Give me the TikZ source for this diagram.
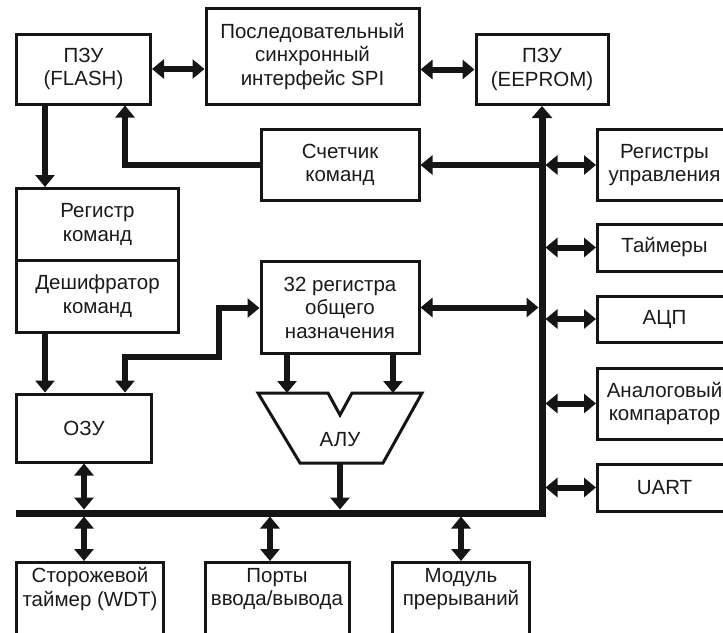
\documentclass[tikz,border=0pt]{standalone}
\usepackage{fontspec}
\setmainfont{Liberation Sans}
\usetikzlibrary{arrows.meta}
\definecolor{ink}{HTML}{151515}
\definecolor{txtcol}{HTML}{1A1A1A}
\begin{document}
\begin{tikzpicture}[x=1pt,y=-1pt,
  box/.style={draw=ink, line width=3pt, rectangle, inner sep=0pt, align=center,
    font=\fontsize{20.5}{23.5}\selectfont, text=txtcol},
  txt/.style={inner sep=0pt, align=center, font=\fontsize{20.5}{23.5}\selectfont, text=txtcol},
  tip/.tip={Triangle[width=19pt,length=12pt]},
  arr/.style={draw=ink, line width=6pt, line join=miter, -tip},
  dbl/.style={draw=ink, line width=6pt, line join=miter, tip-tip},
  bus/.style={draw=ink, line width=7pt, line join=miter},
  aluline/.style={draw=ink, line width=3pt, line join=miter}]
\useasboundingbox (0,0) rectangle (723,632);
\clip (0,0) rectangle (723,632);

% boxes
\node[box, minimum width=134, minimum height=70] (flash) at (83.5,69) {ПЗУ\\(FLASH)};
\node[box, minimum width=213, minimum height=96] (spi) at (312.5,56.5) {Последовательный\\синхронный\\интерфейс SPI};
\node[box, minimum width=132, minimum height=70] (eeprom) at (542,69.5) {ПЗУ\\(EEPROM)};
\node[box, minimum width=158, minimum height=71] (counter) at (340,165) {Счетчик\\команд};
\node[box, minimum width=134, minimum height=71, anchor=west] (regctl) at (596,165) {Регистры\\управления};
\node[box, minimum width=162, minimum height=71.5] (regcmd) at (97.5,224.25) {Регистр\\команд};
\node[box, minimum width=162, minimum height=72] (decoder) at (97.5,296) {Дешифратор\\команд};
\node[box, minimum width=158, minimum height=92] (gpr) at (340,307.5) {32 регистра\\общего\\назначения};
\node[box, minimum width=134, minimum height=47, anchor=west] (timers) at (596,247.5) {Таймеры};
\node[box, minimum width=134, minimum height=46, anchor=west] (adc) at (596,319) {АЦП};
\node[box, minimum width=134, minimum height=71, anchor=west] (comp) at (596,403.5) {Аналоговый\\компаратор};
\node[box, minimum width=134, minimum height=47, anchor=west] (uart) at (596,487.5) {UART};
\node[box, minimum width=135, minimum height=68] (ram) at (84,428) {ОЗУ};

% ALU
\draw[aluline] (258,393) -- (328,393) -- (340,415) -- (352,393) -- (422,393)
  -- (383,463) -- (300,463) -- cycle;
\node[txt] (alu) at (340,440) {АЛУ};
\coordinate (aluin1) at (287,393);
\coordinate (aluin2) at (393,393);
\coordinate (aluout) at (340,463);

% bottom boxes
\node[box, minimum width=147, minimum height=80, anchor=north] (wdt) at (90,561) {};
\node[txt, anchor=center] (wdtt) at ([yshift=-28pt]wdt.north) {Сторожевой\\таймер (WDT)};
\node[box, minimum width=144, minimum height=80, anchor=north] (ports) at (277,561) {};
\node[txt, anchor=center] (portst) at ([yshift=-28pt]ports.north) {Порты\\ввода/вывода};
\node[box, minimum width=137, minimum height=80, anchor=north] (intr) at (461,561) {};
\node[txt, anchor=center] (intrt) at ([yshift=-28pt]intr.north) {Модуль\\прерываний};

% bus
\coordinate (busL) at (16,513);
\coordinate (busC) at (542,513);
\coordinate (busR) at (545.5,513);
\coordinate (busLe) at (538.5,513);
\coordinate (busT) at (0,509.5);
\coordinate (busB) at (0,516.5);
\draw[bus, -{Triangle[width=20pt,length=12pt]}] (busL) -- (busC) -- (eeprom.south);

% top connectors
\draw[dbl] (flash.east) -- (flash.east -| spi.west);
\draw[dbl] (eeprom.west -| spi.east) -- (eeprom.west);
\draw[arr] (flash.south -| 45,0) -- (regcmd.north -| 45,0);
\draw[arr] (counter.west) -| (flash.south -| 125,0);
\draw[arr] (busLe |- counter.east) -- (counter.east);
\draw[dbl] (busR |- regctl.west) -- (regctl.west);

% middle connectors
\draw[arr] (decoder.south -| 45,0) -- (ram.north -| 45,0);
\draw[dbl] (ram.north -| 125,0) |- (219,357) |- (gpr.west |- 0,308);
\draw[dbl] (gpr.east) -- (busLe |- gpr.east);
\draw[arr] (gpr.south -| aluin1) -- (aluin1);
\draw[arr] (gpr.south -| aluin2) -- (aluin2);
\draw[arr] (aluout) -- (aluout |- busT);

% right peripherals
\draw[dbl] (busR |- timers.west) -- (timers.west);
\draw[dbl] (busR |- adc.west) -- (adc.west);
\draw[dbl] (busR |- comp.west) -- (comp.west);
\draw[dbl] (busR |- uart.west) -- (uart.west);

% bottom connectors
\draw[dbl] (ram.south) -- (ram.south |- busT);
\draw[dbl] (ram.south |- busB) -- (ram.south |- wdt.north);
\draw[dbl] (270,516.5) -- (ports.north -| 270,0);
\draw[dbl] (intr.north |- busB) -- (intr.north);
\end{tikzpicture}
\end{document}
